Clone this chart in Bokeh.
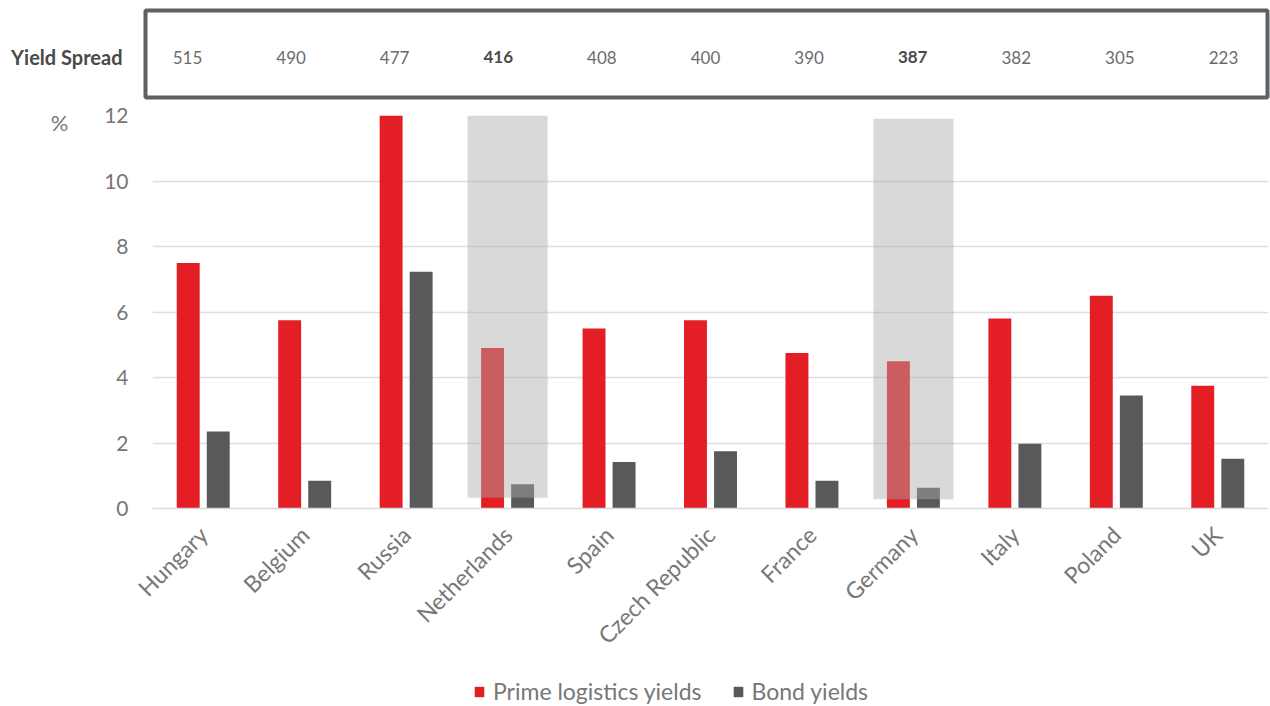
from bokeh.plotting import figure
from bokeh.models import (FactorRange, Range1d, FixedTicker, LinearAxis, Legend,
                          LegendItem, ColumnDataSource)
from bokeh.layouts import column, row
from bokeh.transform import dodge
from bokeh.core.properties import value
from bokeh.embed import file_html
from bokeh.resources import INLINE
import math

countries = ["Hungary", "Belgium", "Russia", "Netherlands", "Spain", "Czech Republic",
             "France", "Germany", "Italy", "Poland", "UK"]
prime_yields = [7.5, 5.75, 12.0, 4.9, 5.5, 5.75, 4.75, 4.5, 5.8, 6.5, 3.75]
bond_yields = [2.35, 0.85, 7.23, 0.74, 1.42, 1.75, 0.85, 0.63, 1.98, 3.45, 1.52]
yield_spread = [515, 490, 477, 416, 408, 400, 390, 387, 382, 305, 223]
highlight = ["Netherlands", "Germany"]
highlight_bottom = [0.33, 0.28]
highlight_top = [12.0, 11.9]
y_ticks = [0, 2, 4, 6, 8, 10, 12]

FONT = "Lato"
RED = "#e31e24"
GREY = "#58595b"
TXT = "#777777"
W = 1270

# ---------- top strip: Yield spread ----------
spread_src = ColumnDataSource(dict(
    idx=list(range(len(countries))),
    label=[str(v) for v in yield_spread],
    y=[0.46] * len(countries),
    style=["bold" if c in highlight else "normal" for c in countries],
    color=["#4a4a4a" if c in highlight else "#6b6b6b" for c in countries],
))

top = figure(width=W, height=105,
             x_range=Range1d(-0.405, len(countries) - 1 + 0.425),
             y_range=Range1d(0, 1), x_axis_location=None,
             output_backend="svg", toolbar_location=None,
             min_border_left=145, min_border_right=3, min_border_top=10, min_border_bottom=8)
top.grid.visible = False
top.outline_line_color = "#5d6065"
top.outline_line_width = 4
top.yaxis.ticker = FixedTicker(ticks=[0.46])
top.yaxis.major_label_overrides = {0.46: "Yield Spread"}
top.yaxis.axis_line_color = None
top.yaxis.major_tick_line_color = None
top.yaxis.minor_tick_line_color = None
top.yaxis.major_label_standoff = 17
top.yaxis.major_label_text_font = FONT
top.yaxis.major_label_text_font_style = "bold"
top.yaxis.major_label_text_font_size = "20px"
top.yaxis.major_label_text_color = "#4a4a4a"
top.text(x="idx", y="y", text="label", source=spread_src,
         text_align="center", text_baseline="middle",
         text_font=value(FONT), text_font_size="17px",
         text_font_style="style", text_color="color")

# ---------- main bar chart ----------
src = ColumnDataSource(dict(country=countries, prime=prime_yields, bond=bond_yields))
hl_src = ColumnDataSource(dict(country=highlight, bottom=highlight_bottom, top=highlight_top))

p = figure(width=W, height=560,
           x_range=FactorRange(*countries, range_padding=0),
           y_range=Range1d(0, 12),
           output_backend="svg", toolbar_location=None,
           min_border_left=152, min_border_right=2, min_border_top=10, min_border_bottom=157)
p.outline_line_color = None

r1 = p.vbar(x=dodge("country", -0.148, range=p.x_range), top="prime", width=0.226,
            source=src, fill_color=RED, line_color=None)
r2 = p.vbar(x=dodge("country", 0.148, range=p.x_range), top="bond", width=0.226,
            source=src, fill_color=GREY, line_color=None)
p.vbar(x="country", bottom="bottom", top="top", width=0.79, source=hl_src,
       fill_color="#aaaaaa", fill_alpha=0.45, line_color=None)

p.xgrid.visible = False
p.ygrid.grid_line_color = "#dedede"
p.ygrid.grid_line_width = 1.5
p.yaxis.ticker = FixedTicker(ticks=y_ticks)
p.yaxis.axis_line_color = None
p.yaxis.major_tick_line_color = None
p.yaxis.minor_tick_line_color = None
p.yaxis.major_label_standoff = 18
p.yaxis.major_label_text_font = FONT
p.yaxis.major_label_text_font_size = "21px"
p.yaxis.major_label_text_color = TXT

pct_axis = LinearAxis(ticker=FixedTicker(ticks=[12]), major_label_overrides={12: "%"},
                      axis_line_color=None, major_tick_line_color=None,
                      minor_tick_line_color=None, major_label_standoff=27,
                      major_label_text_font=FONT, major_label_text_font_size="22px",
                      major_label_text_color=TXT)
p.add_layout(pct_axis, "left")

p.xaxis.axis_line_color = "#d9d9d9"
p.xaxis.axis_line_width = 1.5
p.xaxis.major_tick_line_color = None
p.xaxis.minor_tick_line_color = None
p.xaxis.major_label_orientation = math.pi / 4
p.xaxis.major_label_standoff = 16
p.xaxis.major_label_text_font = FONT
p.xaxis.major_label_text_font_size = "23px"
p.xaxis.major_label_text_color = TXT

# ---------- legend strip ----------
lg = figure(width=W, height=41, x_range=Range1d(0, 1), y_range=Range1d(0, 1),
            x_axis_location=None, y_axis_location=None,
            output_backend="svg", toolbar_location=None,
            min_border_left=0, min_border_right=0, min_border_top=0, min_border_bottom=0)
lg.grid.visible = False
lg.outline_line_color = None
dummy = ColumnDataSource(dict(x=[0.5], top=[0.0]))
g1 = lg.vbar(x="x", top="top", width=0.01, source=dummy, fill_color=RED, line_color=None)
g2 = lg.vbar(x="x", top="top", width=0.01, source=dummy, fill_color=GREY, line_color=None)
legend = Legend(items=[LegendItem(label="Prime logistics yields", renderers=[g1]),
                       LegendItem(label="Bond yields", renderers=[g2])],
                orientation="horizontal", location=(473, 1),
                label_text_font=FONT, label_text_font_size="23px",
                label_text_color=TXT, glyph_width=12, glyph_height=13,
                spacing=30, border_line_color=None, background_fill_alpha=0,
                margin=0, padding=4, label_standoff=8)
lg.add_layout(legend)

layout = column(row(top), row(p), row(lg), spacing=0)
open("out.html", "w").write(file_html(layout, INLINE))
